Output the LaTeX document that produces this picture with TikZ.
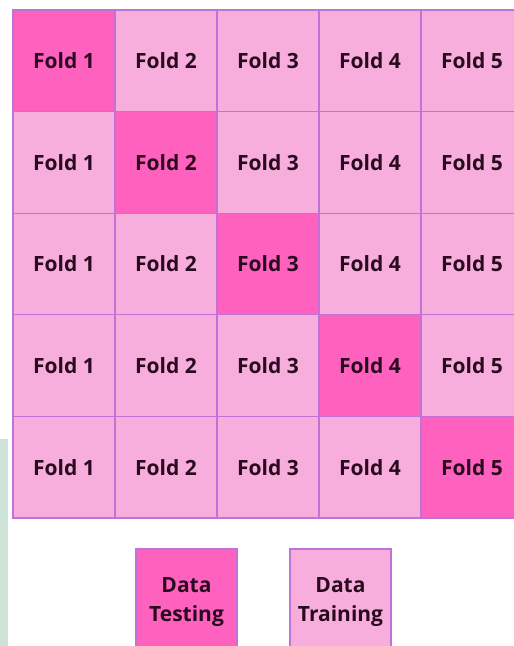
\documentclass[tikz,border=0pt]{standalone}
\usepackage{fontspec}
\setmainfont{Open Sans}
\usetikzlibrary{positioning}
\definecolor{foldtest}{HTML}{FF62BE}
\definecolor{foldtrain}{HTML}{F7AEDC}
\definecolor{foldborder}{HTML}{C272D6}
\definecolor{foldtext}{HTML}{2A0A1E}
\definecolor{sidestrip}{HTML}{CDE3D7}
\begin{document}
\begin{tikzpicture}[x=1pt, y=-1pt,
    fold/.style={draw=foldborder, line width=1.3pt, minimum width=102pt,
      minimum height=101.6pt, inner sep=0pt, outer sep=0pt, anchor=north west,
      text=foldtext, font=\fontsize{21}{29}\selectfont\bfseries,
      align=center},
    train/.style={fold, fill=foldtrain},
    test/.style={fold, fill=foldtest}
  ]
  \useasboundingbox (0,0) rectangle (514,646);
  % background strip at the left edge
  \fill[sidestrip] (0,439) rectangle (8,646);
  % the five folds, one row per round
  \foreach \r in {1,...,5} {
    \foreach \c in {1,...,5} {
      \ifnum\r=\c
        \node[test] (c-\r-\c) at ({13+102*(\c-1)}, {10+101.6*(\r-1)}) {Fold \c};
      \else
        \node[train] (c-\r-\c) at ({13+102*(\c-1)}, {10+101.6*(\r-1)}) {Fold \c};
      \fi
    }
  }
  % legend
  \node[test, minimum width=101pt, minimum height=106pt] (testing)
    at (136,549) {Data\\Testing};
  \node[train, minimum width=101pt, minimum height=106pt,
    right=53pt of testing.north east, anchor=north west] (training)
    {Data\\Training};
\end{tikzpicture}
\end{document}
